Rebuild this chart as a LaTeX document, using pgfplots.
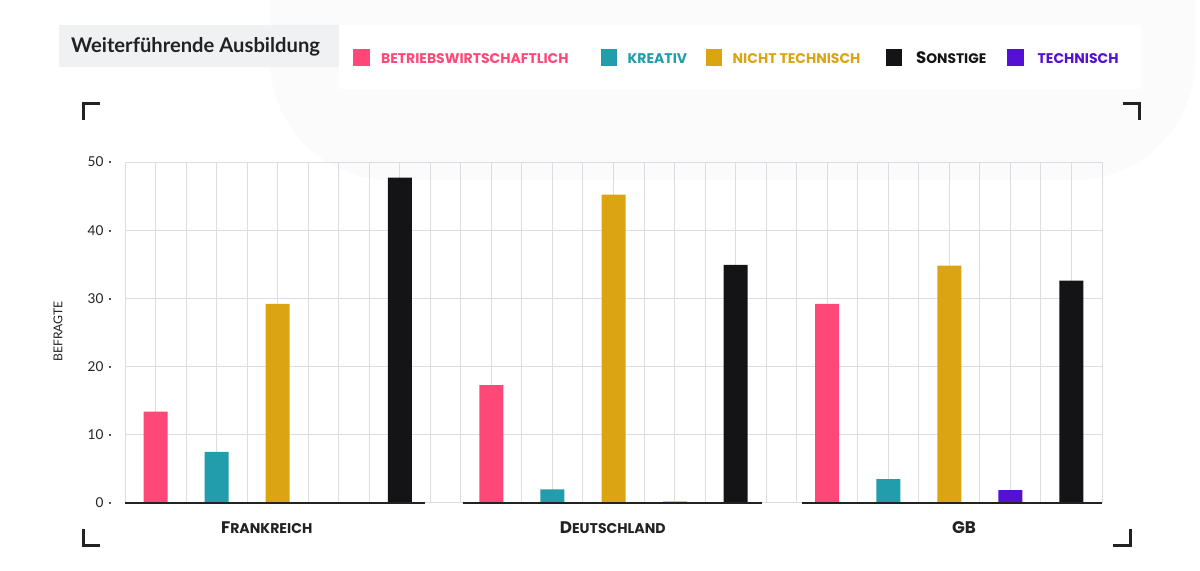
\documentclass[border=0pt]{standalone}
\usepackage{pgfplots}
\pgfplotsset{compat=1.18}
\usepackage{fontspec}
\setmainfont{Lato}
\newfontfamily\pop{Poppins}
\definecolor{cpink}{HTML}{FF4878}
\definecolor{cteal}{HTML}{219DAB}
\definecolor{cgold}{HTML}{DBA413}
\definecolor{cblack}{HTML}{141416}
\definecolor{cpurple}{HTML}{5511D3}
\definecolor{gridc}{HTML}{DCDCE3}
\definecolor{darkc}{HTML}{222222}
\definecolor{titlebg}{HTML}{F0F1F3}
\definecolor{blob}{HTML}{FBFBFB}
\newcommand\legfont{\pop\bfseries\fontsize{7}{8}\selectfont}
\newcommand\grpbig{\pop\bfseries\fontsize{8.4}{9}\selectfont}
\newcommand\grpsmall{\pop\bfseries\fontsize{7.05}{9}\selectfont}
\begin{document}
\begin{tikzpicture}
\begin{scope}[x=0.5pt,y=-0.5pt]
\useasboundingbox (0,0) rectangle (1200,571);
% faint background blob
\fill[blob, rounded corners=60pt] (270,-150) rectangle (1195,180);
% title box
\fill[titlebg] (59,25) rectangle (338.5,67.3);
\node[anchor=base west, inner sep=0pt, text=darkc, font=\bfseries\fontsize{10.1}{12}\selectfont] at (70.7,52.3) {Weiterführende Ausbildung};
% legend box
\fill[white] (339,25) rectangle (1141,89.3);
\fill[cpink]   (353.3,49.3) rectangle (370,65.7);
\fill[cteal]   (601,49.3) rectangle (617.3,65.7);
\fill[cgold]   (706,49.3) rectangle (722.3,65.7);
\fill[cblack]  (886,49.3) rectangle (902.3,65.7);
\fill[cpurple] (1007.3,49.3) rectangle (1024,65.7);
\node[anchor=base west, inner sep=0pt, text=cpink, font=\legfont] at (380.7,64) {BETRIEBSWIRTSCHAFTLICH};
\node[anchor=base west, inner sep=0pt, text=cteal, font=\legfont] at (627.3,64) {KREATIV};
\node[anchor=base west, inner sep=0pt, text=cgold, font=\legfont] at (732.3,64) {NICHT TECHNISCH};
\node[anchor=base west, inner sep=0pt, text=cblack] at (915.7,64) {{\pop\bfseries\fontsize{8.3}{9}\selectfont S}{\pop\bfseries\fontsize{6.9}{8}\selectfont ONSTIGE}};
\node[anchor=base west, inner sep=0pt, text=cpurple, font=\legfont] at (1037.3,64) {TECHNISCH};
% corner brackets
\draw[darkc, line width=1.5pt] (83.2,120) -- (83.2,103.2) -- (100,103.2);
\draw[darkc, line width=1.5pt] (1122.7,103.2) -- (1139.2,103.2) -- (1139.2,120);
\draw[darkc, line width=1.5pt] (83.2,529) -- (83.2,545.2) -- (100,545.2);
\draw[darkc, line width=1.5pt] (1113,545.2) -- (1130.2,545.2) -- (1130.2,529);
% y label
\node[rotate=90, inner sep=0pt, text=darkc, font=\fontsize{6.1}{7}\selectfont] at (58,331.5) {BEFRAGTE};
% group labels
\node[anchor=base, inner sep=0pt, text=darkc] at (266.7,533.3) {{\grpbig F}{\grpsmall RANKREICH}};
\node[anchor=base, inner sep=0pt, text=darkc] at (612.8,533.3) {{\grpbig D}{\grpsmall EUTSCHLAND}};
\node[anchor=base, inner sep=0pt, text=darkc] at (964,533.3) {{\grpbig GB}};
\end{scope}
\begin{axis}[
  at={(62.5pt,-251.5pt)}, anchor=south west, scale only axis,
  width=488.5pt, height=170.5pt,
  xmin=0, xmax=32, ymin=0, ymax=50,
  xtick={0,...,32}, xticklabels={},
  ytick={0,10,...,50},
  grid=major, major grid style={draw=gridc, line width=0.5pt},
  axis line style={draw=none}, major tick length=0pt,
  yticklabel={\pgfmathprintnumber[assume math mode=true]{\tick}\hspace{2.5pt}\textperiodcentered},
  yticklabel style={font=\fontsize{6.8}{8}\selectfont, text=darkc, xshift=-3pt},
  clip=false,
]
\addplot[ybar, bar shift=0pt, bar width=0.786, fill=cpink, draw=none] coordinates {(1,13.4) (12,17.3) (23,29.2)};
\addplot[ybar, bar shift=0pt, bar width=0.786, fill=cteal, draw=none] coordinates {(3,7.5) (14,2) (25,3.5)};
\addplot[ybar, bar shift=0pt, bar width=0.786, fill=cgold, draw=none] coordinates {(5,29.2) (16,45.2) (27,34.8)};
\addplot[ybar, bar shift=0pt, bar width=0.786, fill=cpurple!30, draw=none] coordinates {(18,0.25)};
\addplot[ybar, bar shift=0pt, bar width=0.786, fill=cpurple, draw=none] coordinates {(7,0) (29,1.9)};
\addplot[ybar, bar shift=0pt, bar width=0.786, fill=cblack, draw=none] coordinates {(9,47.7) (20,34.9) (31,32.6)};
\addplot[darkc, line width=1pt] coordinates {(0,0) (9.82,0)};
\addplot[darkc, line width=1pt] coordinates {(11.06,0) (20.85,0)};
\addplot[darkc, line width=1pt] coordinates {(22.16,0) (32,0)};
\end{axis}
\end{tikzpicture}
\end{document}
